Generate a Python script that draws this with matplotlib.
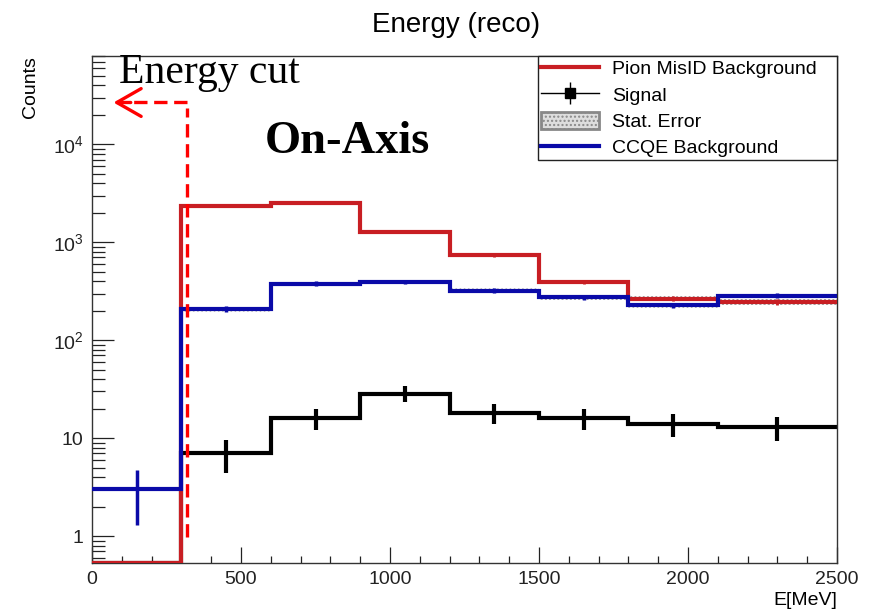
import numpy as np
import matplotlib
matplotlib.use('Agg')
import matplotlib.pyplot as plt
from matplotlib.lines import Line2D
from matplotlib.patches import Patch
from matplotlib.legend_handler import HandlerTuple
from matplotlib.ticker import FixedLocator, MultipleLocator, LogLocator, NullFormatter

plt.rcParams['font.family'] = ['Liberation Sans', 'DejaVu Sans']
plt.rcParams['mathtext.fontset'] = 'custom'
plt.rcParams['mathtext.rm'] = 'Liberation Sans'
plt.rcParams['mathtext.it'] = 'Liberation Sans'

# reco energy binning [MeV] and per-bin counts
bin_edges = [0, 300, 600, 900, 1200, 1500, 1800, 2100, 2500]
pion_misid = [0, 2330, 2540, 1285, 736, 393, 266, 245]
pion_err = [0, 48, 50, 36, 27, 20, 16, 16]
ccqe = [3.0, 210, 379, 393, 321, 275, 227, 284]
ccqe_err = [1.7, 14.5, 19.5, 19.8, 17.9, 16.6, 15.1, 16.9]
signal = [0, 7, 16, 28.5, 18, 16, 14, 13]
signal_err = [0, 2.6, 4.0, 5.3, 4.2, 4.0, 3.7, 3.6]

cut_energy = 320
y_ticks = [1, 10, 100, 1000, 10000]
y_tick_labels = ['1', '10', '10$^{2}$', '10$^{3}$', '10$^{4}$']

ymin, ymax = 0.53, 8e4
red = '#c81e23'
blue = '#0a0aa8'

edges = np.array(bin_edges, dtype=float)
centers = 0.5 * (edges[:-1] + edges[1:])

fig = plt.figure(figsize=(8.73, 6.10), dpi=100)
ax = fig.add_axes([0.1054, 0.0770, 0.8534, 0.8312])
ax.set_yscale('log')


def stat_band(vals, errs, z):
    # hatched band over the filled bins above the cut
    v = np.array(vals[1:], dtype=float)
    e = np.array(errs[1:], dtype=float)
    lo = v - e
    hi = v + e
    ax.fill_between(edges[1:], np.append(lo, lo[-1]), np.append(hi, hi[-1]), step='post',
                    facecolor='none', edgecolor='#999999', hatch='....', lw=0, zorder=z)


# signal histogram
sig = np.clip(np.array(signal, dtype=float), ymin, None)
ax.stairs(sig, edges, color='black', lw=3, baseline=None, zorder=2)
ax.errorbar(centers[1:], signal[1:], yerr=signal_err[1:], fmt='none', ecolor='black',
            elinewidth=3, capsize=0, zorder=2)

# pion mis-ID background
stat_band(pion_misid, pion_err, 3)
ax.stairs(np.clip(np.array(pion_misid, dtype=float), ymin, None), edges, color=red, lw=3,
          baseline=None, zorder=3)
ax.errorbar(centers[1:], pion_misid[1:], yerr=pion_err[1:], fmt='none', ecolor=red,
            elinewidth=2, capsize=0, zorder=3)

# CCQE background
stat_band(ccqe, ccqe_err, 4)
ax.stairs(np.array(ccqe, dtype=float), edges, color=blue, lw=3, baseline=None, zorder=4)
ax.errorbar(centers, ccqe, yerr=ccqe_err, fmt='none', ecolor=blue, elinewidth=2.5,
            capsize=0, zorder=4)

# energy cut marker
ax.plot([cut_energy, cut_energy], [0.98, 23300], color='red', lw=2.4, ls=(0, (4, 2)),
        zorder=6)
ax.plot([cut_energy, 125], [26800, 26800], color='red', lw=2.4, ls=(0, (4, 2)), zorder=6)
ax.annotate('', xy=(72, 26800), xytext=(130, 26800),
            arrowprops=dict(arrowstyle='->, head_length=0.7, head_width=0.4', color='red',
                            lw=2.4, mutation_scale=25, shrinkA=0, shrinkB=0), zorder=6)
ax.text(0.036, 0.947, 'Energy cut', transform=ax.transAxes, family='Liberation Serif',
        fontsize=30, va='baseline', ha='left')
ax.text(0.232, 0.809, 'On-Axis', transform=ax.transAxes, family='Liberation Serif',
        fontsize=33.5, fontweight='bold', va='baseline', ha='left')

ax.set_xlim(0, 2500)
ax.set_ylim(ymin, ymax)
ax.xaxis.set_major_locator(MultipleLocator(500))
ax.xaxis.set_minor_locator(MultipleLocator(100))
ax.yaxis.set_major_locator(FixedLocator(y_ticks))
ax.set_yticklabels(y_tick_labels)
ax.yaxis.set_minor_locator(LogLocator(base=10, subs=np.arange(2, 10)))
ax.yaxis.set_minor_formatter(NullFormatter())
ax.tick_params(which='both', direction='in', top=False, right=False, width=0.9,
               labelsize=14, colors='#222222')
ax.tick_params(axis='y', which='major', length=16, pad=6)
ax.tick_params(axis='y', which='minor', length=9.5)
ax.tick_params(axis='x', which='major', length=11.5, pad=6)
ax.tick_params(axis='x', which='minor', length=5)
for sp in ax.spines.values():
    sp.set_linewidth(1.0)
    sp.set_color('#333333')

ax.set_ylabel('Counts', loc='top', fontsize=14)
ax.yaxis.set_label_coords(-0.071, 1.0)
ax.set_xlabel('E[MeV]', loc='right', fontsize=14)
ax.xaxis.set_label_coords(1.0, -0.057)

fig.text(456 / 873, 1 - 32 / 610, 'Energy (reco)', ha='center', va='baseline', fontsize=20)

handles = [
    Line2D([], [], color=red, lw=3),
    (Line2D([], [], color='black', lw=1), Line2D([], [], color='black', marker='s', ms=7, lw=0),
     Line2D([], [], color='black', marker='|', ms=16, mew=1, lw=0)),
    Patch(facecolor='#dddddd', edgecolor='#888888', hatch='....', lw=2),
    Line2D([], [], color=blue, lw=3),
]
labels = ['Pion MisID Background', 'Signal', 'Stat. Error', 'CCQE Background']
leg = ax.legend(handles, labels, loc='upper left', bbox_to_anchor=(0.5987, 0, 0.4013, 1.0),
                mode='expand', borderaxespad=0, fontsize=14, handlelength=3.0,
                handletextpad=0.65, labelspacing=0.36, handleheight=1.0, borderpad=0.15,
                fancybox=False, framealpha=1, edgecolor='#222222',
                handler_map={tuple: HandlerTuple(ndivide=1)})
leg.get_frame().set_linewidth(1.0)
leg.set_zorder(10)

fig.savefig('out.png', dpi=100)
